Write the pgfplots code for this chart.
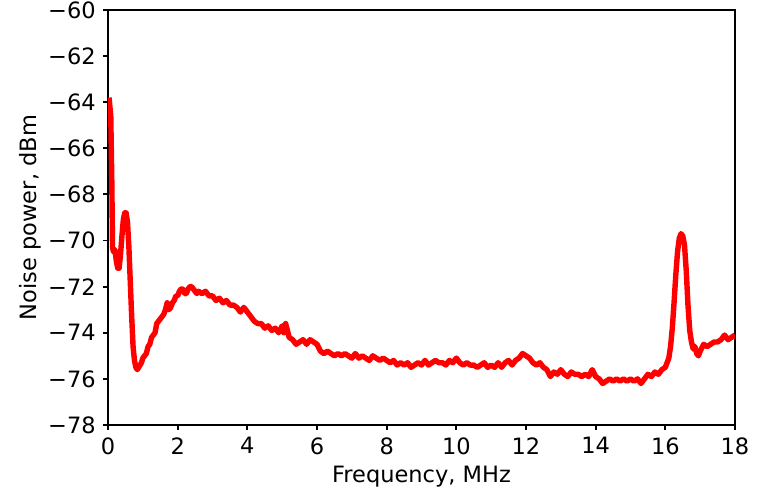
\documentclass[border=0pt]{standalone}
\usepackage{pgfplots}
\pgfplotsset{compat=1.18}
\usepackage{fontspec}
\setmainfont{DejaVu Sans}
\begin{document}
\begin{tikzpicture}
\begin{axis}[
  name=ax,
  scale only axis,
  width=300.96pt, height=199.2pt,
  xmin=0, xmax=18, ymin=-78, ymax=-60,
  xtick={0,2,...,18},
  ytick={-78,-76,-74,-72,-70,-68,-66,-64,-62,-60},
  yticklabels={−78,−76,−74,−72,−70,−68,−66,−64,−62,−60},
  /pgf/number format/assume math mode=true,
  tick align=outside,
  tick pos=left,
  major tick length=2.4pt,
  every tick/.style={black, line width=0.9pt},
  axis line style={line width=0.9pt},
  tick label style={font=\fontsize{10.8}{13}\selectfont},
  label style={font=\fontsize{10.8}{13}\selectfont},
  xlabel={Frequency, MHz},
  ylabel={Noise power, dBm},
  xlabel style={yshift=1pt},
  ylabel style={yshift=-3.5pt},
]
\addplot[red, line width=2.6pt, line join=round] coordinates {
(0.03,-63.8)(0.08,-64.6)(0.11,-67.5)(0.13,-70.3)(0.16,-70.5)(0.20,-70.4)(0.24,-70.9)(0.28,-71.2)(0.32,-71.2)(0.36,-70.6)(0.40,-69.8)(0.44,-69.1)(0.48,-68.8)(0.52,-68.8)(0.56,-69.2)(0.60,-70.3)(0.64,-71.8)(0.68,-73.3)(0.72,-74.6)(0.76,-75.2)(0.80,-75.5)(0.84,-75.6)(0.88,-75.5)(0.92,-75.4)(0.96,-75.3)(1.00,-75.1)(1.05,-75.0)(1.10,-74.9)(1.15,-74.6)(1.20,-74.5)(1.25,-74.2)(1.30,-74.1)(1.35,-74.0)(1.40,-73.6)(1.45,-73.5)(1.50,-73.4)(1.55,-73.3)(1.60,-73.2)(1.65,-73.0)(1.70,-72.7)(1.75,-73.0)(1.80,-72.9)(1.85,-72.7)(1.90,-72.6)(1.95,-72.4)(2.00,-72.4)(2.05,-72.2)(2.10,-72.1)(2.15,-72.1)(2.20,-72.3)(2.25,-72.3)(2.30,-72.1)(2.35,-72.0)(2.40,-72.0)(2.45,-72.1)(2.50,-72.2)(2.55,-72.3)
(2.6,-72.2)(2.7,-72.3)(2.8,-72.2)(2.9,-72.4)(3.0,-72.4)(3.1,-72.6)(3.2,-72.5)(3.3,-72.7)(3.4,-72.6)(3.5,-72.8)(3.6,-72.8)(3.7,-72.9)(3.8,-73.1)(3.9,-72.9)(4.0,-73.1)(4.1,-73.3)(4.2,-73.5)(4.3,-73.6)(4.4,-73.6)(4.5,-73.8)(4.6,-73.7)(4.7,-73.9)(4.8,-73.8)(4.9,-74.0)(5.0,-73.7)(5.05,-74.0)(5.1,-73.6)(5.2,-74.2)(5.3,-74.3)(5.4,-74.5)(5.5,-74.4)(5.6,-74.3)(5.7,-74.5)(5.8,-74.3)(5.9,-74.4)(6.0,-74.5)(6.1,-74.8)(6.2,-74.9)(6.3,-74.8)(6.4,-74.9)(6.5,-75.0)(6.6,-74.9)(6.7,-75.0)(6.8,-74.9)(6.9,-75.0)(7.0,-75.1)(7.1,-74.9)(7.2,-75.1)(7.3,-75.0)(7.4,-75.1)(7.5,-75.2)(7.6,-75.0)(7.7,-75.1)(7.8,-75.2)(7.9,-75.1)(8.0,-75.2)(8.1,-75.3)(8.2,-75.2)(8.3,-75.4)(8.4,-75.3)(8.5,-75.4)(8.6,-75.3)(8.7,-75.5)(8.8,-75.4)(8.9,-75.3)(9.0,-75.4)(9.1,-75.2)(9.2,-75.4)(9.3,-75.3)(9.4,-75.2)(9.5,-75.3)(9.6,-75.3)(9.7,-75.4)(9.8,-75.2)(9.9,-75.3)(10.0,-75.1)(10.1,-75.3)(10.2,-75.4)(10.3,-75.3)(10.4,-75.4)(10.5,-75.4)(10.6,-75.5)(10.7,-75.4)(10.8,-75.3)(10.9,-75.5)(11.0,-75.4)(11.1,-75.5)(11.2,-75.3)(11.3,-75.5)(11.4,-75.3)(11.5,-75.2)(11.6,-75.4)(11.7,-75.2)(11.8,-75.1)(11.9,-74.9)(12.0,-75.0)(12.1,-75.1)(12.2,-75.3)(12.3,-75.4)(12.4,-75.3)(12.5,-75.5)(12.6,-75.6)(12.7,-75.9)(12.8,-75.7)(12.9,-75.8)(13.0,-75.6)(13.1,-75.8)(13.2,-75.9)(13.3,-75.7)(13.4,-75.8)(13.5,-75.8)(13.6,-75.9)(13.7,-75.8)(13.8,-75.9)(13.9,-75.6)(14.0,-75.9)(14.1,-76.0)(14.2,-76.2)(14.3,-76.1)(14.4,-76.0)(14.5,-76.1)(14.6,-76.0)(14.7,-76.1)(14.8,-76.0)(14.9,-76.1)(15.0,-76.0)(15.1,-76.1)(15.2,-76.0)(15.3,-76.2)(15.4,-76.0)(15.5,-75.8)(15.6,-75.9)(15.7,-75.7)(15.8,-75.8)(15.9,-75.6)(16.0,-75.5)(16.05,-75.3)(16.1,-75.1)(16.15,-74.6)(16.2,-73.8)(16.25,-72.7)(16.3,-71.5)(16.35,-70.5)(16.4,-69.9)(16.45,-69.7)(16.5,-69.8)(16.55,-70.2)(16.6,-71.3)(16.65,-72.8)(16.7,-73.9)(16.75,-74.4)(16.8,-74.7)(16.85,-74.6)(16.9,-74.9)(16.95,-75.0)(17.0,-74.8)(17.1,-74.5)(17.2,-74.6)(17.3,-74.5)(17.4,-74.4)(17.5,-74.4)(17.6,-74.3)(17.7,-74.1)(17.8,-74.3)(17.9,-74.2)(18.0,-74.1)
};
\end{axis}
\pgfresetboundingbox
\path[use as bounding box] ([xshift=-51.84pt,yshift=-30.24pt]ax.south west) rectangle ([xshift=11.52pt,yshift=4.8pt]ax.north east);
\end{tikzpicture}
\end{document}
